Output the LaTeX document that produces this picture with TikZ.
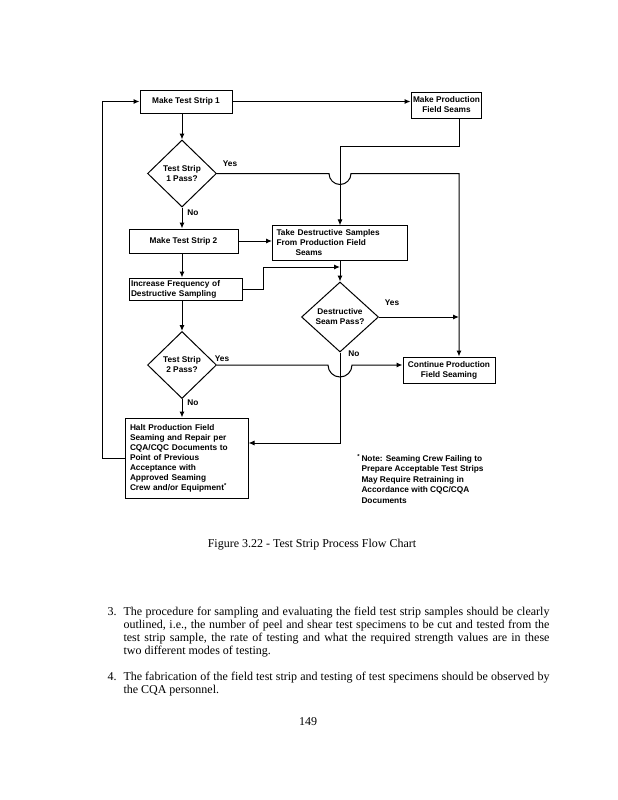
\documentclass[tikz,border=0pt]{standalone}
\usepackage{fontspec}
\setmainfont{Liberation Serif}
\newfontfamily\chartfont{Liberation Sans}
\usetikzlibrary{shapes.geometric,arrows.meta,calc}

\newcommand{\chartsize}{\chartfont\bfseries\fontsize{8.3}{10}\selectfont}

\begin{document}
\begin{tikzpicture}[x=1pt, y=-1pt, line width=1pt,
  >={Latex[length=6pt,width=5pt]},
  box/.style={draw, inner sep=2pt, font=\chartsize},
  decision/.style={draw, diamond, inner sep=0pt, align=center, font=\chartsize},
  answer/.style={font=\chartsize, inner sep=0pt},
  body/.style={font=\fontsize{12}{13}\selectfont, inner sep=0pt}]
 \useasboundingbox (0,0) rectangle (618,800);

 % flow chart
 \node[box, minimum width=92pt, minimum height=23pt] (strip1) at (186,101.5) {Make Test Strip 1};
 \node[box, minimum width=67pt, minimum height=26pt, align=center] (prod) at (446.5,105) {Make Production\\Field Seams};
 \node[decision, minimum width=69pt, minimum height=67pt] (pass1) at (182,173.5) {Test Strip\\1 Pass?};
 \node[box, minimum width=109pt, minimum height=24pt] (strip2) at (183.5,241) {Make Test Strip 2};
 \node[box, text width=127pt, inner sep=4pt, minimum height=34pt, align=left] (samples) at (340,243) {Take Destructive Samples\\From Production Field\\\hspace*{2.3em}Seams};
 \node[box, text width=109pt, minimum height=22pt, align=left] (freq) at (185.5,289) {Increase Frequency of\\Destructive Sampling};
 \node[decision, minimum width=77pt, minimum height=70pt] (seampass) at (340,317) {Destructive\\Seam Pass?};
 \node[decision, minimum width=69pt, minimum height=67pt] (pass2) at (182,365) {Test Strip\\2 Pass?};
 \node[box, text width=113pt, inner sep=5pt, minimum height=80pt, align=left] (halt) at (186.5,458) {Halt Production Field\\Seaming and Repair per\\CQA/CQC Documents to\\Point of Previous\\Acceptance with\\Approved Seaming\\Crew and/or Equipment\textsuperscript{*}};
 \node[box, minimum width=92pt, minimum height=26pt, align=center] (cont) at (449,370) {Continue Production\\Field Seaming};
 \node[answer, anchor=north west, align=left, font=\chartfont\bfseries\fontsize{8.3}{10.5}\selectfont] (note) at (361,454) {\llap{\textsuperscript{*}\,}Note: Seaming Crew Failing to\\Prepare Acceptable Test Strips\\May Require Retraining in\\Accordance with CQC/CQA\\Documents};

 \node[answer] (yes1) at (230,164) {Yes};
 \node[answer] (no1)  at (193,213) {No};
 \node[answer] (yes2) at (392,303) {Yes};
 \node[answer] (no2)  at (354,354) {No};
 \node[answer] (yes3) at (222,359) {Yes};
 \node[answer] (no3)  at (193,403) {No};

 \coordinate (rail)   at (459,146);
 \coordinate (kink)   at (263,267);
 \coordinate (return) at (340,443);
 \coordinate (back)   at (102,458);

 \draw[->] (strip1.south -| pass1) -- (pass1.north);
 \draw[->] (strip1.east) -- (strip1.east -| prod.west);
 \draw[->] (prod.south -| rail) -- (rail) -- (rail -| samples.north) -- (samples.north);
 \draw[->] (pass1.east) -- ($(pass1.east -| samples.north)+(-11,0)$) arc[start angle=180, end angle=0, radius=11] -- (pass1.east -| rail) -- (rail |- cont.north);
 \draw[->] (pass1.south) -- (strip2.north -| pass1);
 \draw[->] (strip2.east) -- (strip2.east -| samples.west);
 \draw[->] (strip2.south -| pass1) -- (freq.north -| pass1);
 \draw[->] (freq.east) -| (kink) -- (kink -| samples.south);
 \draw[->] (samples.south) -- (seampass.north);
 \draw[->] (seampass.east) -- (seampass.east -| rail);
 \draw[->] (freq.south -| pass1) -- (pass2.north);
 \draw[->] (seampass.south) -- (return) -- (return -| halt.east);
 \draw[->] (pass2.east) -- ($(pass2.east -| seampass.south)+(-12,0)$) arc[start angle=180, end angle=0, radius=12] -- (pass2.east -| cont.west);
 \draw[->] (pass2.south) -- (halt.north -| pass2);
 \draw[->] (halt.west) -- (back) |- (strip1.west);

 % page text
 \node[body] (caption) at (312,545) {Figure 3.22 - Test Strip Process Flow Chart};
 \node[body, anchor=base west] (num3) at (107,615) {3.};
 \node[body, anchor=north west, text width=426pt, align=justify] (para3) at (123,606.5) {\noindent The procedure for sampling and evaluating the field test strip samples should be clearly\linebreak outlined, i.e., the number of peel and shear test specimens to be cut and tested from the\linebreak test strip sample, the rate of testing and what the required strength values are in these\linebreak two different modes of testing.};
 \node[body, anchor=base west] (num4) at (107,680) {4.};
 \node[body, anchor=north west, text width=426pt, align=justify] (para4) at (123,671.5) {\noindent The fabrication of the field test strip and testing of test specimens should be observed by\linebreak the CQA personnel.};
 \node[body] (page) at (308,722) {149};
\end{tikzpicture}
\end{document}
